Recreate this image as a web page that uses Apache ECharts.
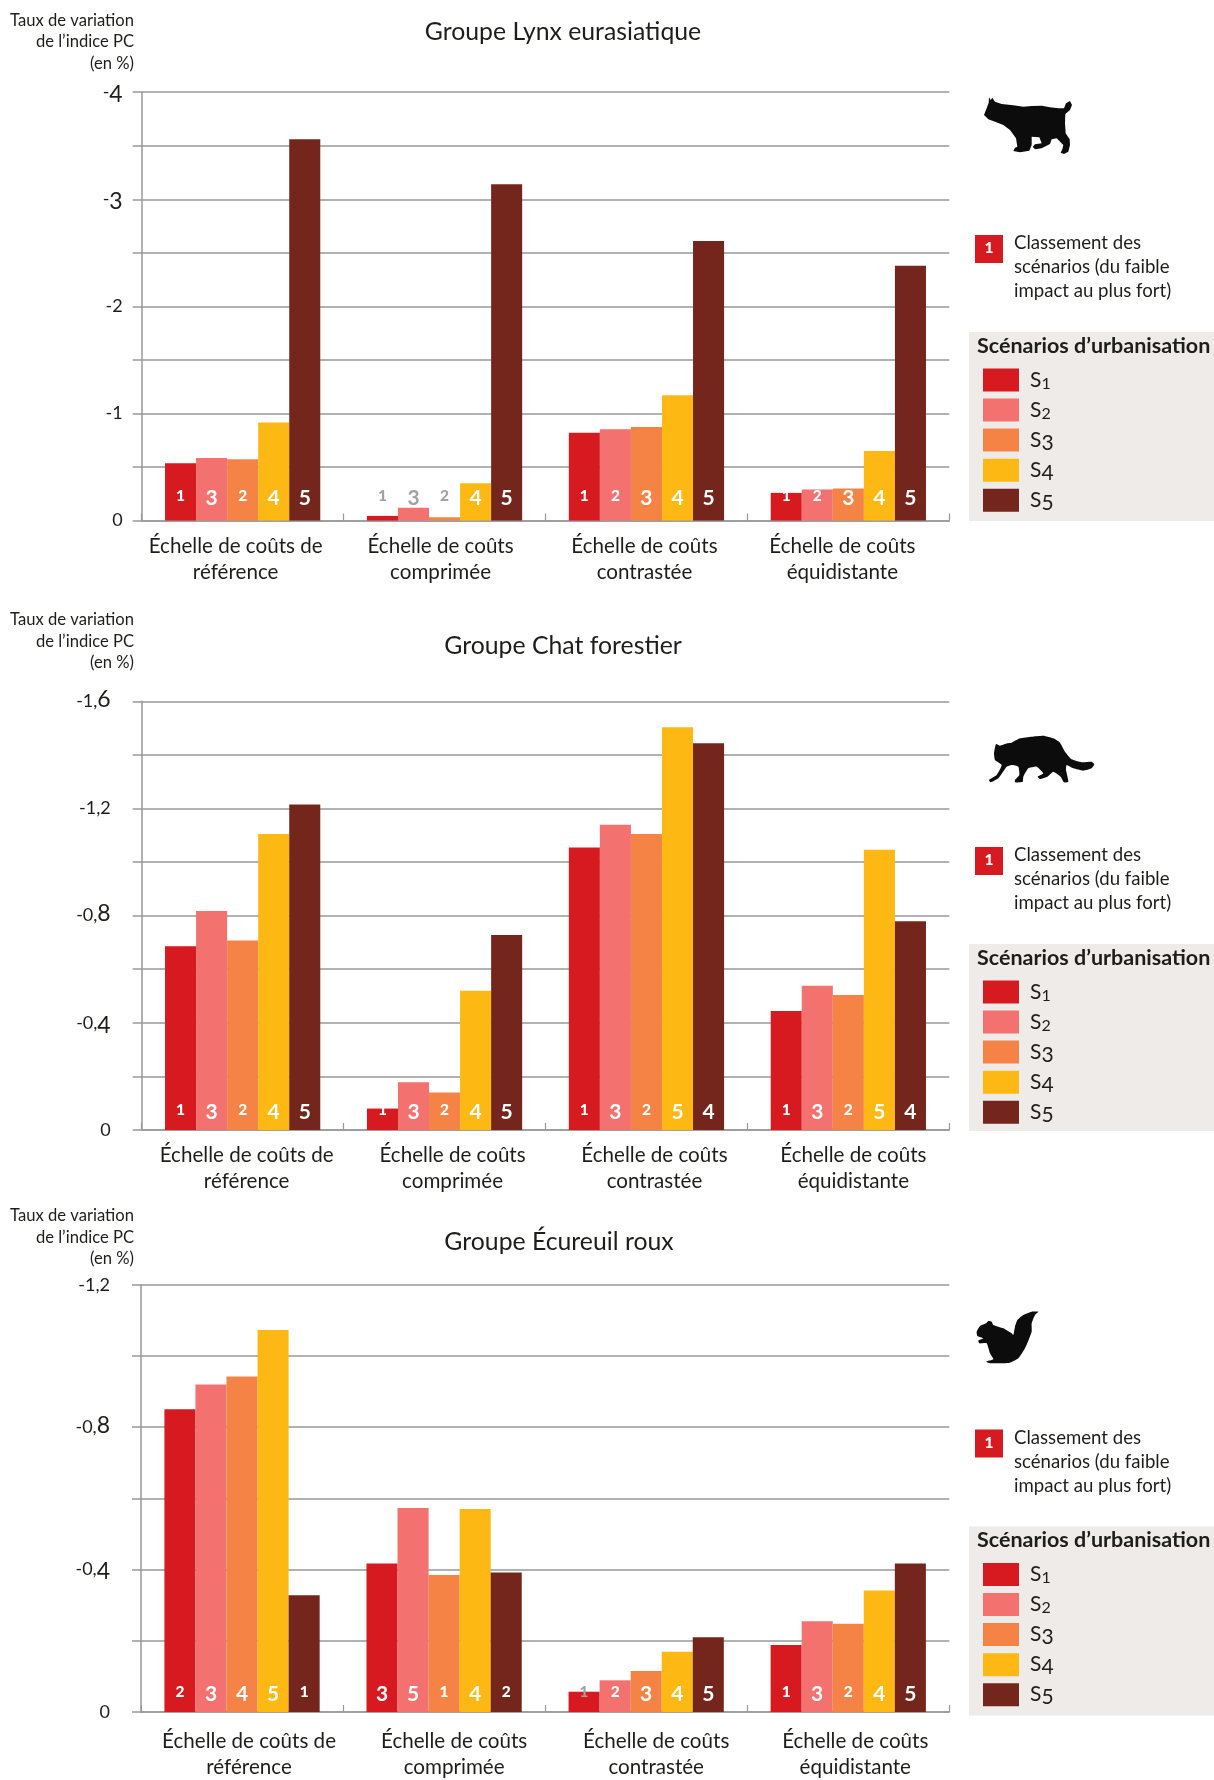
<!DOCTYPE html>
<html>
<head>
<meta charset="utf-8">
<script src="https://cdn.jsdelivr.net/npm/echarts@6/dist/echarts.min.js"></script>
<style>html,body{margin:0;padding:0;background:#fff}#c{width:1214px;height:1780px}</style>
</head>
<body>
<div id="c"></div>
<script>
const categories1 = ['Échelle de coûts de\nréférence','Échelle de coûts\ncomprimée','Échelle de coûts\ncontrastée','Échelle de coûts\néquidistante'];
const scenarios = ['S1','S2','S3','S4','S5'];
const colors = ['#d71920','#f3716e','#f58345','#fdb813','#74261c'];

const lynxS1 = [-0.535,-0.043,-0.82,-0.258];
const lynxS2 = [-0.584,-0.118,-0.852,-0.29];
const lynxS3 = [-0.573,-0.03,-0.873,-0.30];
const lynxS4 = [-0.915,-0.347,-1.17,-0.65];
const lynxS5 = [-3.56,-3.14,-2.61,-2.38];
const lynxRanks = [[1,3,2,4,5],[1,3,2,4,5],[1,2,3,4,5],[1,2,3,4,5]];
const lynxGrey = [[1,0],[1,1],[1,2]];

const chatS1 = [-0.686,-0.08,-1.054,-0.444];
const chatS2 = [-0.817,-0.178,-1.139,-0.538];
const chatS3 = [-0.707,-0.14,-1.105,-0.504];
const chatS4 = [-1.105,-0.52,-1.503,-1.046];
const chatS5 = [-1.215,-0.728,-1.443,-0.779];
const chatRanks = [[1,3,2,4,5],[1,3,2,4,5],[1,3,2,5,4],[1,3,2,5,4]];
const chatGrey = [];

const ecuS1 = [-0.85,-0.417,-0.057,-0.188];
const ecuS2 = [-0.92,-0.573,-0.089,-0.255];
const ecuS3 = [-0.942,-0.385,-0.115,-0.248];
const ecuS4 = [-1.073,-0.57,-0.169,-0.341];
const ecuS5 = [-0.328,-0.392,-0.21,-0.417];
const ecuRanks = [[2,3,4,5,1],[3,5,1,4,2],[1,2,3,4,5],[1,3,2,4,5]];
const ecuGrey = [[2,0]];

const lynxTicks = {min:-4, interval:0.5, labelEvery:2, decimals:0};
const chatTicks = {min:-1.6, interval:0.2, labelEvery:2, decimals:1};
const ecuTicks = {min:-1.2, interval:0.2, labelEvery:2, decimals:1};

const FONT = 'Lato';
const INK = '#1d1d1b';
const GRID = '#999999';

const panels = [
 {title:'Groupe Lynx eurasiatique', titleX:563, titleY:32, capY:[21,42,64], left:141.7, top:92.2, bottom:520.5, series:[lynxS1,lynxS2,lynxS3,lynxS4,lynxS5], ranks:lynxRanks, grey:lynxGrey, ticks:lynxTicks, labelMargin:19, catMargin:13, nudge:[-7,-4,-2,-6], dy:0, panelH:189, rankDist:11.5, smooth:0,
  icon:[960,80,[[72,105],[80,85],[86,68],[87,52],[92,60],[97,53],[105,65],[125,72],[160,76],[190,80],[215,78],[245,77],[270,82],[295,85],[312,85],[318,70],[330,63],[336,75],[330,90],[316,102],[315,130],[317,160],[329,178],[330,195],[325,215],[312,222],[302,218],[307,208],[310,195],[290,175],[275,178],[270,192],[245,205],[225,208],[218,200],[225,193],[245,190],[238,172],[215,170],[215,195],[208,212],[180,217],[160,213],[165,203],[172,200],[168,175],[150,150],[130,135],[105,125],[85,118]]]},
 {title:'Groupe Chat forestier', titleX:563, titleY:646, capY:[620,642,663], left:141.7, top:701.3, bottom:1130, series:[chatS1,chatS2,chatS3,chatS4,chatS5], ranks:chatRanks, grey:chatGrey, ticks:chatTicks, labelMargin:31, catMargin:12, nudge:[4,8,8,5], dy:612, panelH:187, rankDist:6.8, smooth:0.15,
  icon:[970,720,[[78,72],[90,77],[112,70],[125,68],[150,55],[185,50],[220,47],[250,55],[270,68],[285,95],[305,118],[335,127],[365,125],[373,133],[365,145],[340,152],[310,145],[290,135],[288,150],[295,185],[282,187],[272,170],[250,155],[232,170],[210,177],[203,170],[220,160],[200,140],[175,145],[160,170],[158,185],[135,187],[135,180],[148,165],[145,140],[125,135],[110,140],[85,175],[62,187],[57,180],[80,165],[95,135],[75,120],[72,100]]]},
 {title:'Groupe Écureuil roux', titleX:559, titleY:1242, capY:[1216,1238,1259], left:141, top:1284.7, bottom:1713, series:[ecuS1,ecuS2,ecuS3,ecuS4,ecuS5], ranks:ecuRanks, grey:ecuGrey, ticks:ecuTicks, labelMargin:31, catMargin:16, nudge:[7,10,10,7], dy:1194.5, panelH:189, rankDist:7, smooth:0.15,
  icon:[960,1300,[[235,35],[215,35],[190,45],[172,60],[165,80],[160,105],[155,100],[130,85],[100,75],[95,65],[85,63],[78,70],[60,78],[50,95],[52,108],[70,115],[55,122],[58,130],[80,130],[90,160],[100,178],[78,185],[95,190],[150,188],[175,175],[195,145],[215,95],[215,70],[225,45]]]}
];

// Old-style figures of the original typeface, imitated with rich-text tokens
function oldstyle(str){
  return String(str).split('').map(ch=>{
    const k = '012,-'.includes(ch) ? 'x' : '68'.includes(ch) ? 'a' : 'd';
    return '{'+k+'|'+ch+'}';
  }).join('');
}
const axisRich = {
  x:{fontFamily:FONT,fontSize:18,color:INK},
  a:{fontFamily:FONT,fontSize:23,color:INK,padding:[0,0,4,0]},
  d:{fontFamily:FONT,fontSize:23,color:INK,padding:[5,0,0,0]}
};
const legendRich = {
  t:{fontFamily:FONT,fontSize:21,color:INK,lineHeight:23,padding:[0,0,0,6]},
  x:{fontFamily:FONT,fontSize:16,color:INK,lineHeight:23,verticalAlign:'bottom'},
  a:{fontFamily:FONT,fontSize:21,color:INK,lineHeight:23},
  d:{fontFamily:FONT,fontSize:21,color:INK,lineHeight:17,padding:[6,0,0,0]}
};
const rankRich = {
  s:{fontFamily:FONT,fontSize:15.5,fontWeight:900,lineHeight:22,padding:[0,0,5,0]},
  b:{fontFamily:FONT,fontSize:21,fontWeight:700,lineHeight:22}
};

const grids=[], xAxes=[], yAxes=[], series=[], titles=[], legends=[], graphics=[];

panels.forEach((p,pi)=>{
  grids.push({left:p.left, width:949.3-p.left, top:p.top, height:p.bottom-p.top, containLabel:false});
  xAxes.push({
    type:'category', gridIndex:pi, position:'bottom',
    data:categories1.map((c,i)=>({value:c, textStyle: p.nudge[i]>0 ? {padding:[0,0,0,p.nudge[i]*2]} : {padding:[0,-p.nudge[i]*2,0,0]}})),
    axisLine:{onZero:false,lineStyle:{color:GRID,width:1.5}},
    axisTick:{show:true,inside:true,length:7,lineStyle:{color:GRID,width:1.2}},
    axisLabel:{interval:0,margin:p.catMargin,fontFamily:FONT,fontSize:20.6,lineHeight:26,color:INK},
    splitLine:{show:false}
  });
  const t=p.ticks;
  yAxes.push({
    type:'value', gridIndex:pi, inverse:true, min:t.min, max:0, interval:t.interval,
    axisLine:{show:true,onZero:false,lineStyle:{color:GRID,width:1.5}},
    axisTick:{show:true,length:9,lineStyle:{color:GRID,width:1.5}},
    splitLine:{show:true,lineStyle:{color:GRID,width:1.5}},
    axisLabel:{
      margin:p.labelMargin, color:INK, fontFamily:FONT, fontSize:18, rich:axisRich,
      formatter:v=>{
        const n=Math.round(Math.abs(v)/t.interval);
        if(n%t.labelEvery!==0) return '';
        if(n===0) return oldstyle('0');
        return oldstyle('-'+Math.abs(v).toFixed(t.decimals).replace('.',','));
      }
    }
  });
  p.series.forEach((vals,si)=>{
    series.push({
      type:'bar', name:scenarios[si], xAxisIndex:pi, yAxisIndex:pi,
      barWidth:31.05, barGap:0, z:3, silent:true,
      itemStyle:{color:colors[si]},
      data:vals.map((v,gi)=>{
        const rank=p.ranks[gi][si];
        const grey=p.grey.some(g=>g[0]===gi&&g[1]===si);
        return {value:v, label:{color:grey?'#a3a2a3':'#ffffff',
          formatter:(rank<3?'{s|':'{b|')+rank+'}'}};
      }),
      label:{show:true,position:'insideBottom',distance:p.rankDist,rich:rankRich,color:'#fff'}
    });
  });
  titles.push({text:p.title,left:p.titleX,top:p.titleY,textAlign:'center',textVerticalAlign:'middle',padding:0,
    textStyle:{fontFamily:FONT,fontSize:24.8,fontWeight:400,color:INK}});
  p.capY.forEach((y,i)=>{
    titles.push({text:['Taux de variation','de l’indice PC','(en %)'][i],left:134,top:y,textAlign:'right',textVerticalAlign:'middle',padding:0,
      textStyle:{fontFamily:FONT,fontSize:16.6,fontWeight:400,color:INK}});
  });
  ['Classement des','scénarios (du faible','impact au plus fort)'].forEach((s,i)=>{
    titles.push({text:s,left:1014,top:243+24*i+p.dy,textVerticalAlign:'middle',padding:0,
      textStyle:{fontFamily:FONT,fontSize:18.6,fontWeight:400,color:INK}});
  });
  titles.push({text:'Scénarios d’urbanisation',left:977,top:346+p.dy,textVerticalAlign:'middle',padding:0,
    textStyle:{fontFamily:FONT,fontSize:21.5,fontWeight:700,color:INK}});
  legends.push({
    show:true, orient:'vertical', left:983, top:366.5+p.dy, padding:0, itemWidth:36, itemHeight:23, itemGap:3.05,
    selectedMode:false, icon:'rect', data:scenarios, itemStyle:{borderWidth:0},
    // a hair-space token gives every entry the same height, so the swatches stay evenly spaced
    formatter:n=>{const dg=n.slice(1); return '{t|S}'+oldstyle(dg)+('12'.includes(dg)?'{d|\u200a}':'');},
    textStyle:{fontFamily:FONT,fontSize:21,color:INK,rich:legendRich}
  });
  graphics.push({type:'rect',z:0,shape:{x:969,y:332+p.dy,width:245,height:p.panelH},style:{fill:'#eeebe9'}});
  graphics.push({type:'rect',z:0,shape:{x:975,y:235+p.dy,width:28,height:28},style:{fill:'#d71920'}});
  graphics.push({type:'text',z:1,x:989,y:248+p.dy,style:{text:'1',fill:'#fff',fontFamily:FONT,fontSize:15.5,fontWeight:900,align:'center',verticalAlign:'middle'}});
  const [ox,oy,pts]=p.icon;
  graphics.push({type:'polygon',z:1,shape:{points:pts.map(q=>[ox+q[0]/3,oy+q[1]/3]),smooth:p.smooth},style:{fill:'#0c0c0c'}});
});

const chart=echarts.init(document.getElementById('c'),null,{renderer:'canvas'});
chart.setOption({
  animation:false, backgroundColor:'#fff', tooltip:{show:false},
  title:titles, grid:grids, xAxis:xAxes, yAxis:yAxes, series:series, legend:legends,
  graphic:{elements:graphics}
});
</script>
</body>
</html>
